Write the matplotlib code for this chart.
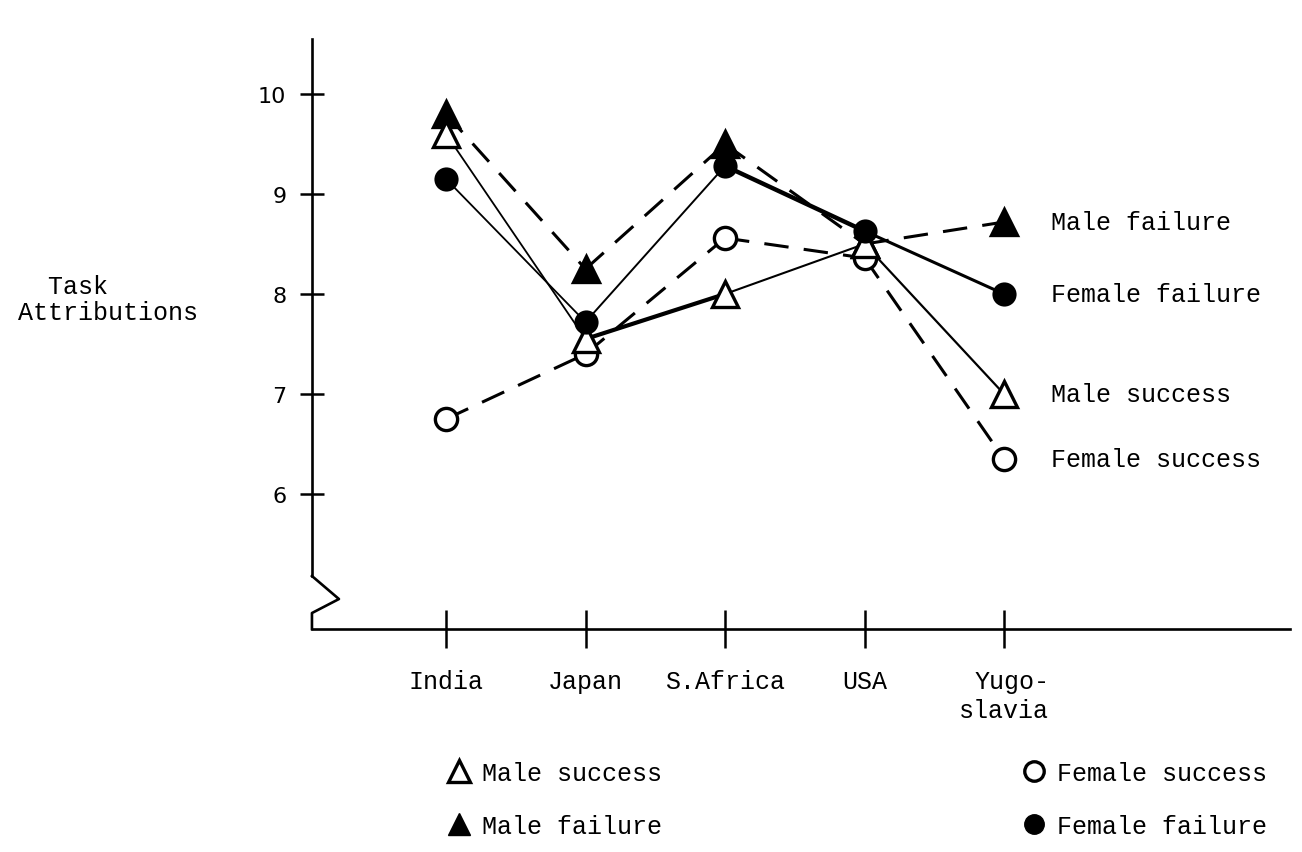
import matplotlib
matplotlib.use("Agg")
import matplotlib.pyplot as plt
import matplotlib.transforms as mtransforms
from matplotlib.lines import Line2D

# data
countries = ["India", "Japan", "S.Africa", "USA", "Yugo-\nslavia"]
male_success = [9.6, 7.55, 8.0, 8.5, 7.0]
male_failure = [9.8, 8.25, 9.5, 8.5, 8.72]
female_success = [6.75, 7.4, 8.56, 8.36, 6.35]
female_failure = [9.15, 7.72, 9.28, 8.63, 8.0]
yticks = [6, 7, 8, 9, 10]

mono = "Liberation Mono"
fs = 18

fig = plt.figure(figsize=(13.02, 8.53), dpi=100)
ax = fig.add_axes([0.2396, 0.2614, 0.7512, 0.6917])
ax.set_xlim(-0.961, 6.05)
ax.set_ylim(4.65, 10.55)

x = list(range(len(countries)))

# series: (values, marker, filled, linestyle, per-segment widths, size, label)
series = [
    (male_failure, "^", True, (0, (8, 5)), [2.2, 2.2, 2.2, 2.2], 19, "Male failure"),
    (female_success, "o", False, (0, (8, 5)), [2.2, 2.2, 2.2, 2.2], 16, "Female success"),
    (male_success, "^", False, "-", [1.3, 3.0, 1.5, 1.6], 19, "Male success"),
    (female_failure, "o", True, "-", [1.3, 1.4, 3.2, 2.2], 15, "Female failure"),
]

for vals, mk, filled, ls, widths, ms, lab in series:
    for i in range(len(vals) - 1):
        ax.plot(x[i:i + 2], vals[i:i + 2], color="black", linestyle=ls,
                linewidth=widths[i], solid_capstyle="butt", zorder=2)
for vals, mk, filled, ls, widths, ms, lab in series:
    ax.plot(x, vals, linestyle="none", marker=mk, markersize=ms,
            markerfacecolor="black" if filled else "white",
            markeredgecolor="black", markeredgewidth=2.4, zorder=3)
    ax.annotate(lab, xy=(x[-1], vals[-1]), xytext=(34, 0),
                textcoords="offset points", va="center", ha="left",
                fontsize=fs, family=mono)

# axes styling
for s in ["top", "right"]:
    ax.spines[s].set_visible(False)
ax.spines["left"].set_linewidth(1.9)
ax.spines["bottom"].set_linewidth(1.9)
ax.spines["left"].set_bounds(5.18, 10.55)

# axis break zigzag
blend = mtransforms.blended_transform_factory(ax.transAxes, ax.transData)
ax.plot([0, 0.0276, 0, 0], [5.18, 4.95, 4.81, 4.65], color="black",
        linewidth=1.9, transform=blend, clip_on=False, zorder=4)

ax.set_yticks(yticks)
ax.set_yticklabels([str(t) for t in yticks], fontsize=16, family="DejaVu Sans")
ax.tick_params(axis="y", direction="inout", length=17, width=1.8, pad=10)

ax.set_xticks(x)
ax.set_xticklabels(countries, fontsize=fs, family=mono, linespacing=1.3)
ax.tick_params(axis="x", direction="inout", length=27, width=1.8, pad=15)
for lab in ax.get_xticklabels():
    lab.set_multialignment("right")

fig.text(18 / 1302, 1 - 300 / 853, "  Task\nAttributions", ha="left",
         va="center", fontsize=fs, family=mono, linespacing=1.1)

# legend below the chart
handles = [
    Line2D([], [], linestyle="none", marker="^", markersize=16,
           markerfacecolor="white", markeredgecolor="black", markeredgewidth=2.4),
    Line2D([], [], linestyle="none", marker="^", markersize=16,
           markerfacecolor="black", markeredgecolor="black"),
    Line2D([], [], linestyle="none", marker="o", markersize=14,
           markerfacecolor="white", markeredgecolor="black", markeredgewidth=2.4),
    Line2D([], [], linestyle="none", marker="o", markersize=14,
           markerfacecolor="black", markeredgecolor="black"),
]
labels = ["Male success", "Male failure", "Female success", "Female failure"]
fig.legend(handles, labels, loc="upper left",
           bbox_to_anchor=(446 / 1302, 1 - 762 / 853), ncol=2, frameon=False,
           prop={"family": mono, "size": fs}, handlelength=1.0,
           handletextpad=0.42, columnspacing=14.4, labelspacing=1.15,
           borderpad=0, borderaxespad=0)

fig.savefig("out.png", dpi=100, facecolor="white")
